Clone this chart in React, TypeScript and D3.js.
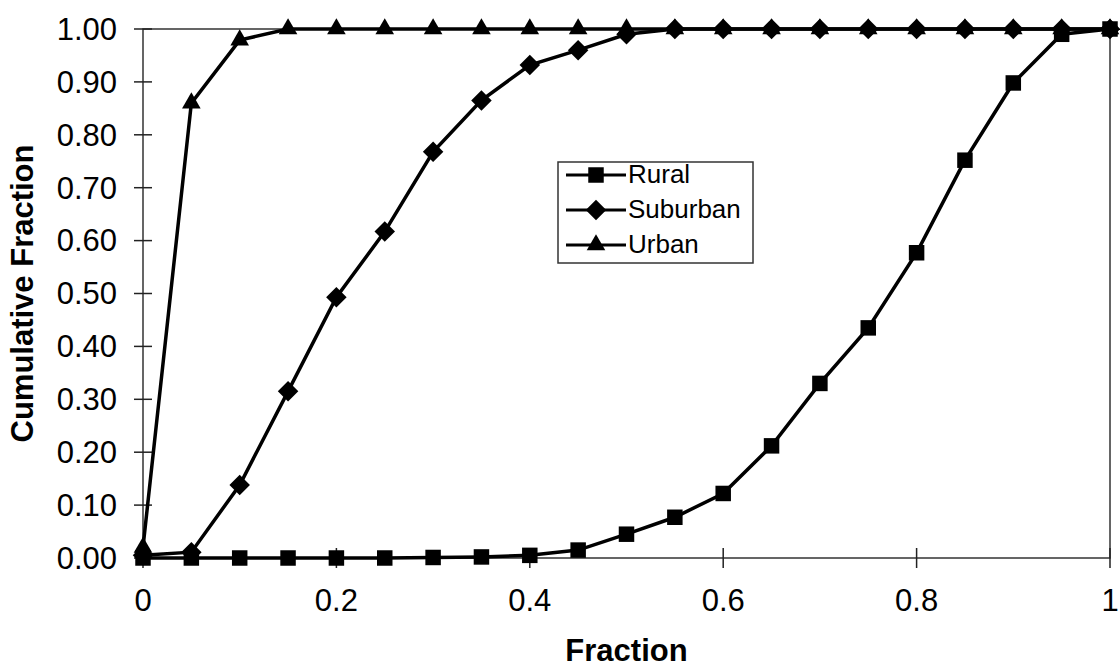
import { useMemo } from "react";
import * as d3 from "d3";

// x positions shared by every series
const fractions = [
  0, 0.05, 0.1, 0.15, 0.2, 0.25, 0.3, 0.35, 0.4, 0.45, 0.5,
  0.55, 0.6, 0.65, 0.7, 0.75, 0.8, 0.85, 0.9, 0.95, 1,
];
const rural = [
  0, 0, 0, 0, 0, 0, 0.001, 0.002, 0.005, 0.015, 0.045,
  0.077, 0.122, 0.212, 0.33, 0.435, 0.577, 0.752, 0.898, 0.99, 1,
];
const suburban = [
  0.005, 0.011, 0.138, 0.315, 0.493, 0.617, 0.768, 0.865, 0.932, 0.96, 0.99,
  1, 1, 1, 1, 1, 1, 1, 1, 1, 1,
];
const urban = [
  0.02, 0.86, 0.979, 1, 1, 1, 1, 1, 1, 1, 1,
  1, 1, 1, 1, 1, 1, 1, 1, 1, 1,
];
const seriesNames = ["Rural", "Suburban", "Urban"];
const xTicks = [0, 0.2, 0.4, 0.6, 0.8, 1];
const yTicks = [0, 0.1, 0.2, 0.3, 0.4, 0.5, 0.6, 0.7, 0.8, 0.9, 1];

const W = 1120;
const H = 668;
const margin = { top: 29, right: 10, bottom: 110, left: 143 };
const font = "'Liberation Sans', Arial, sans-serif";

// square-ish diamond, d3's own is too narrow
const diamond = {
  draw(ctx: any, size: number) {
    const r = Math.sqrt(size / 2);
    ctx.moveTo(0, -r);
    ctx.lineTo(r, 0);
    ctx.lineTo(0, r);
    ctx.lineTo(-r, 0);
    ctx.closePath();
  },
};

export default function App() {
  const x = d3.scaleLinear().domain([0, 1]).range([margin.left, W - margin.right]);
  const y = d3.scaleLinear().domain([0, 1]).range([H - margin.bottom, margin.top]);

  const series = useMemo(
    () => [
      { name: seriesNames[0], values: rural, symbol: d3.symbol(d3.symbolSquare, 240)() },
      { name: seriesNames[1], values: suburban, symbol: d3.symbol(diamond as any, 210)() },
      { name: seriesNames[2], values: urban, symbol: d3.symbol(d3.symbolTriangle, 150)() },
    ],
    []
  );

  const line = d3
    .line<number>()
    .x((_, i) => x(fractions[i]))
    .y((d) => y(d));

  const x0 = x(0);
  const x1 = x(1);
  const y0 = y(0);
  const y1 = y(1);

  const legX = 558;
  const legY = 162;

  return (
    <svg
      width={W}
      height={H}
      style={{ position: "absolute", left: 0, top: 0, background: "#fff" }}
      fontFamily={font}
    >
      {/* plot frame */}
      <rect x={x0} y={y1} width={x1 - x0} height={y0 - y1} fill="none" stroke="#333" strokeWidth={1.5} />

      {/* y axis */}
      {yTicks.map((t) => (
        <g key={"y" + t}>
          <line x1={x0 - 9} x2={x0 + 9} y1={y(t)} y2={y(t)} stroke="#222" strokeWidth={1.5} />
          <text x={117} y={y(t)} dy="0.35em" textAnchor="end" fontSize={31} fill="#000">
            {t.toFixed(2)}
          </text>
        </g>
      ))}

      {/* x axis */}
      {xTicks.map((t) => (
        <g key={"x" + t}>
          <line x1={x(t)} x2={x(t)} y1={y0 - 10} y2={y0 + 10} stroke="#222" strokeWidth={1.5} />
          <text x={x(t)} y={600} dy="0.35em" textAnchor="middle" fontSize={31} fill="#000">
            {d3.format("~g")(t)}
          </text>
        </g>
      ))}

      <text x={(x0 + x1) / 2} y={650} dy="0.35em" textAnchor="middle" fontSize={31} fontWeight="bold" fill="#000">
        Fraction
      </text>
      <text
        transform={`translate(33, ${(y0 + y1) / 2}) rotate(-90)`}
        textAnchor="middle"
        fontSize={31}
        fontWeight="bold"
        fill="#000"
      >
        Cumulative Fraction
      </text>

      {/* series */}
      {series.map((s) => (
        <g key={s.name}>
          <path d={line(s.values) ?? ""} fill="none" stroke="#000" strokeWidth={3.5} />
          {s.values.map((v, i) => (
            <path key={i} d={s.symbol ?? ""} transform={`translate(${x(fractions[i])},${y(v)})`} fill="#000" />
          ))}
        </g>
      ))}

      {/* legend */}
      <rect x={legX} y={legY} width={195} height={101} fill="#fff" stroke="#333" strokeWidth={1.5} />
      {series.map((s, i) => {
        const ly = legY + 12 + i * 35;
        return (
          <g key={"leg" + s.name}>
            <line x1={legX + 8} x2={legX + 68} y1={ly + 1} y2={ly + 1} stroke="#000" strokeWidth={3} />
            <path d={s.symbol ?? ""} transform={`translate(${legX + 38},${ly + 1})`} fill="#000" />
            <text x={legX + 70} y={ly} dy="0.35em" fontSize={26} fill="#000">
              {s.name}
            </text>
          </g>
        );
      })}
    </svg>
  );
}
